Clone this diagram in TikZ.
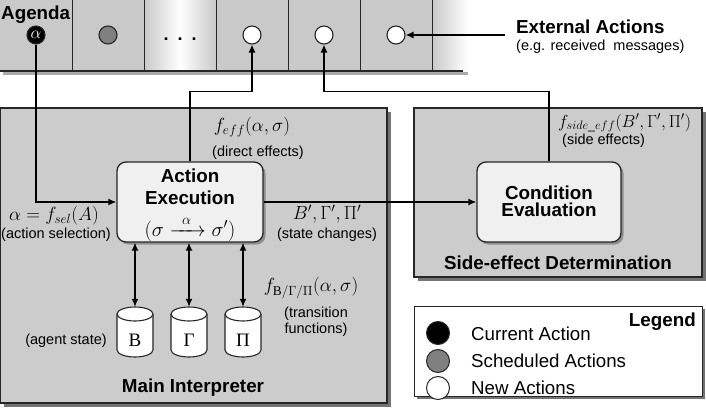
\RequirePackage{fix-cm}
\documentclass[tikz,border=0pt]{standalone}
\usepackage{amsmath}
\usepackage{fontspec}
\setmainfont{Liberation Sans}
\newfontfamily\grserif{Liberation Serif}
\usetikzlibrary{arrows.meta}
\definecolor{cellgray}{gray}{0.79}
\definecolor{boxgray}{gray}{0.80}
\definecolor{shadowgray}{gray}{0.45}
\definecolor{procfill}{gray}{0.94}
\definecolor{edge}{gray}{0.15}
\begin{document}
\begin{tikzpicture}[x=1pt,y=-1pt,
  bigb/.style={font=\fontsize{18.8}{20}\selectfont\bfseries,inner sep=1pt},
  small/.style={font=\fontsize{14.5}{16}\selectfont,inner sep=1pt},
  mathf/.style={font=\fontsize{19}{21}\selectfont,inner sep=1pt},
  legtext/.style={font=\fontsize{18.7}{20}\selectfont,inner sep=1pt},
  dot/.style={circle,draw=edge,line width=1.1pt,minimum size=18pt,inner sep=0pt},
  legdot/.style={circle,draw=edge,line width=1pt,minimum size=23pt,inner sep=0pt},
  panel/.style={draw=edge,line width=1.2pt,fill=boxgray},
  procbox/.style={draw=edge,line width=1.3pt,fill=procfill,rounded corners=9pt,minimum width=146pt,minimum height=80pt},
  cylline/.style={draw=edge,line width=1.1pt,fill=white},
  cylnode/.style={minimum width=36pt,minimum height=50pt,inner sep=0pt},
  arr/.style={line width=1.3pt,-{Latex[length=8pt,width=7pt]}},
  darr/.style={line width=1.3pt,{Latex[length=8pt,width=7pt]}-{Latex[length=8pt,width=7pt]}}]
\useasboundingbox (0,0) rectangle (706,409);
% agenda strip
\fill[cellgray] (0,0) rectangle (432,71);
\shade[left color=cellgray,right color=cellgray,middle color=white] (144,0) rectangle (216,71);
\shade[left color=cellgray,right color=white] (432,0) rectangle (468,71);
\foreach \xx in {72,144,216,288,360,432} \draw[edge,line width=0.9pt] (\xx,0) -- (\xx,71);
\fill[shadowgray!60] (3,72) rectangle (468,75);
\draw[edge,line width=1.2pt] (0,71) -- (463,71);
\node[bigb,anchor=west] (agenda) at (0,15) {Agenda};
\node[dot,fill=black,text=white,font=\fontsize{17}{17}\selectfont] (cur) at (36,35) {$\alpha$};
\node[dot,fill=gray] (sch) at (108,35) {};
\node[font=\fontsize{18}{18}\selectfont\bfseries,inner sep=1pt] (dots) at (180,39) {.\hspace{9pt}.\hspace{9pt}.};
\node[dot,fill=white] (n1) at (252,35) {};
\node[dot,fill=white] (n2) at (324,35) {};
\node[dot,fill=white] (n3) at (396,35) {};
\coordinate (ext) at (505,35);
\node[bigb,anchor=west] (extt) at (515,27) {External Actions};
\node[small,anchor=west] (exts) at (515,47) {(e.g. received\ \ messages)};
% panels
\fill[shadowgray] (4,112) rectangle (391,407);
\fill[panel] (0,108) rectangle (387,403);
\fill[shadowgray] (418,112) rectangle (706,281);
\fill[panel] (414,108) rectangle (702,277);
\fill[shadowgray] (417,309) rectangle (705,399);
\filldraw[draw=edge,line width=1pt,fill=white] (414,306) rectangle (702,396);
% process boxes
\fill[shadowgray!80,rounded corners=9pt] (119.5,164.5) rectangle (265.5,244.5);
\node[procbox] (AE) at (190,202) {};
\fill[shadowgray!80,rounded corners=9pt] (479.5,164.5) rectangle (623.5,244.5);
\node[procbox,minimum width=144pt] (CE) at (549,202) {};
\node[bigb] (AEa) at (190,176) {Action};
\node[bigb] (AEb) at (190,198) {Execution};
\node[mathf,font=\fontsize{20.5}{22}\selectfont] (AEc) at (190,229) {$(\sigma \xrightarrow{\hspace{8pt}\alpha\hspace{8pt}} \sigma')$};
\node[bigb,align=center] (CEt) at (549,201) {Condition\\[-3pt]Evaluation};
% cylinders
\foreach \cx/\nm/\sym in {135/cB/Β,189/cG/Γ,243/cP/Π}{
  \fill[white] (\cx-18,314) rectangle (\cx+18,350);
  \filldraw[cylline] (\cx-18,314) -- (\cx-18,350) arc[start angle=180,end angle=0,x radius=18,y radius=7] -- (\cx+18,314);
  \filldraw[cylline] (\cx,314) ellipse[x radius=18,y radius=7];
  \node[cylnode] (\nm) at (\cx,332) {};
  \node[font=\fontsize{19}{21}\selectfont\grserif] at (\cx,340) {\sym};
}
% labels
\node[mathf] (fsel) at (54,216) {$\alpha = f_{sel}(A)$};
\node[small] (fsels) at (56,235) {(action selection)};
\node[mathf] (feff) at (252,127) {$f_{eff}(\alpha,\sigma)$};
\node[small] (feffs) at (258,153) {(direct effects)};
\node[mathf] (bgp) at (327,214) {$B',\Gamma',\Pi'$};
\node[small] (bgps) at (327,235) {(state changes)};
\node[mathf] (ftr) at (311,288) {$f_{\text{\grserif Β}/\Gamma/\Pi}(\alpha,\sigma)$};
\node[small,align=center] (ftrs) at (316,322) {(transition\\functions)};
\node[small] (ags) at (66,341) {(agent state)};
\node[bigb] (mi) at (193,388) {Main Interpreter};
\node[mathf,font=\fontsize{17.5}{19}\selectfont,anchor=west] (fse) at (557,123) {$f_{side\_eff}(B',\Gamma',\Pi')$};
\node[small,anchor=west] (fses) at (561,141) {(side effects)};
\node[bigb] (sed) at (558,263) {Side-effect Determination};
% legend
\node[legdot,fill=black] (lc) at (438,333) {};
\node[legdot,fill=gray] (ls) at (438,361) {};
\node[legdot,fill=white] (ln) at (438,388) {};
\node[legtext,anchor=west] (lct) at (470,334) {Current Action};
\node[legtext,anchor=west] (lst) at (470,361) {Scheduled Actions};
\node[legtext,anchor=west] (lnt) at (470,388) {New Actions};
\node[bigb,anchor=east] (legt) at (697,322) {Legend};
% connectors
\draw[arr] (cur.south) |- (AE.west);
\draw[arr] (AE.north) -- ++(0,-70) -| (n1.south);
\draw[arr] (CE.north) -- ++(0,-70) -| (n2.south);
\draw[arr] (AE.east) -- (CE.west);
\draw[arr] (ext) -- (n3.east);
\draw[darr] (AE.south -| cB) -- (cB.north);
\draw[darr] (AE.south -| cG) -- (cG.north);
\draw[darr] (AE.south -| cP) -- (cP.north);
\end{tikzpicture}
\end{document}
